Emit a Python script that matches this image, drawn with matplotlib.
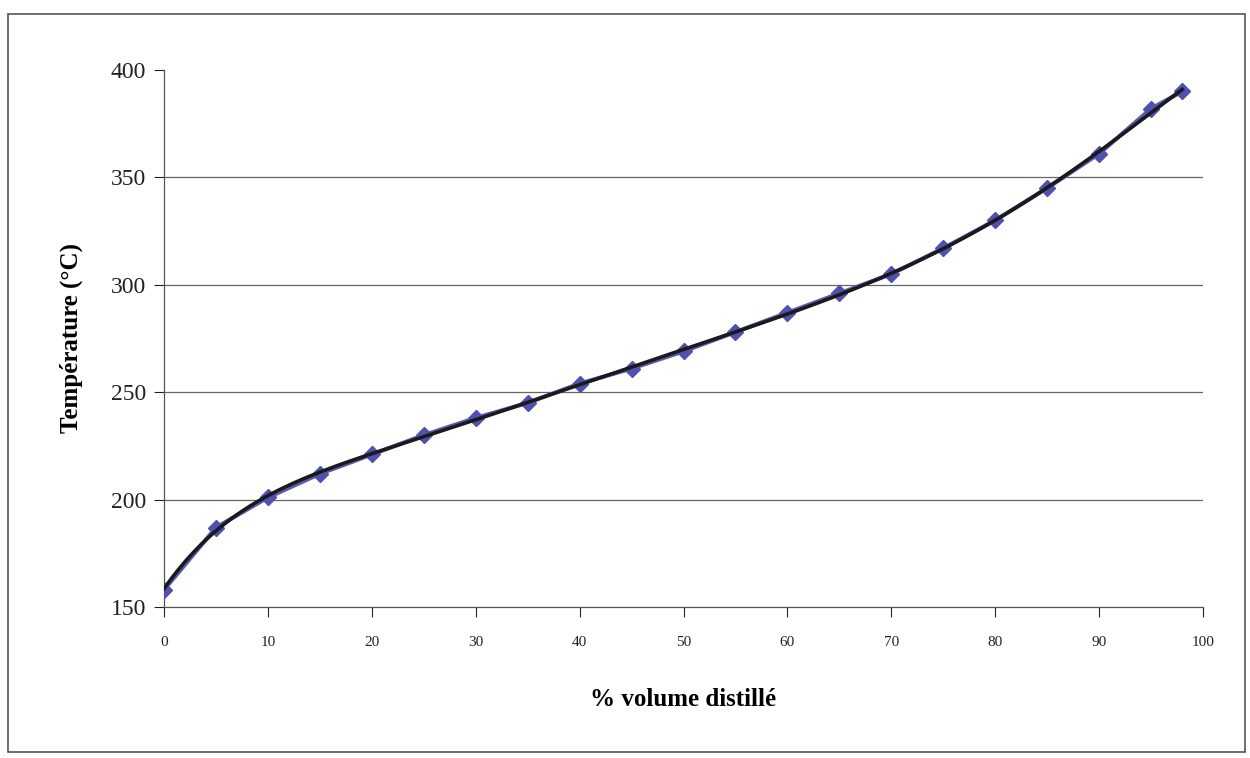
import numpy as np
import matplotlib.pyplot as plt
from matplotlib.patches import Rectangle

# % volume distillé vs température (°C)
volume = [0, 5, 10, 15, 20, 25, 30, 35, 40, 45, 50, 55, 60, 65, 70, 75, 80, 85, 90, 95, 98]
temperature = [158, 187, 201, 212, 221, 230, 238, 245, 254, 261, 269, 278, 287, 296, 305, 317, 330, 345, 361, 382, 390]

x_ticks = list(range(0, 101, 10))
y_ticks = [150, 200, 250, 300, 350, 400]

plt.rcParams['font.family'] = ['Liberation Serif', 'DejaVu Serif']

fig = plt.figure(figsize=(12.5, 7.58), dpi=100)
ax = fig.add_axes([0.1312, 0.1992, 0.8312, 0.7085])

# outer frame of the chart area
fig.patches.append(Rectangle((0.006, 0.008), 0.99, 0.974, transform=fig.transFigure,
                             fill=False, edgecolor='#555555', linewidth=1.2))

# data series (blue diamonds)
ax.plot(volume, temperature, color='#5a5ab4', linewidth=3, marker='D', markersize=8,
        markerfacecolor='#5050b0', markeredgecolor='#5050b0', zorder=3)

# polynomial trendline through the data
trend = np.polynomial.Polynomial.fit(volume, temperature, 7)
xs = np.linspace(volume[0], volume[-1], 300)
ax.plot(xs, trend(xs), color='#1a1a1a', linewidth=2.6, zorder=4)

ax.set_xlim(0, 100)
ax.set_ylim(150, 400)
ax.set_xticks(x_ticks)
ax.set_yticks(y_ticks)
ax.tick_params(axis='x', labelsize=11, direction='out', length=7, width=0.8, pad=14, colors='#222222')
ax.tick_params(axis='y', labelsize=17, direction='out', length=7, width=0.8, pad=6, colors='#222222')

for y in y_ticks[1:-1]:
    ax.axhline(y, color='#666666', linewidth=0.9, zorder=1)

for side in ['top', 'right']:
    ax.spines[side].set_visible(False)
for side in ['left', 'bottom']:
    ax.spines[side].set_color('#555555')
    ax.spines[side].set_linewidth(0.9)

ax.set_xlabel('% volume distillé', fontsize=18, fontweight='bold', labelpad=28)
ax.set_ylabel('Température (°C)', fontsize=18, fontweight='bold', labelpad=20)

fig.savefig('out.png', dpi=100)
